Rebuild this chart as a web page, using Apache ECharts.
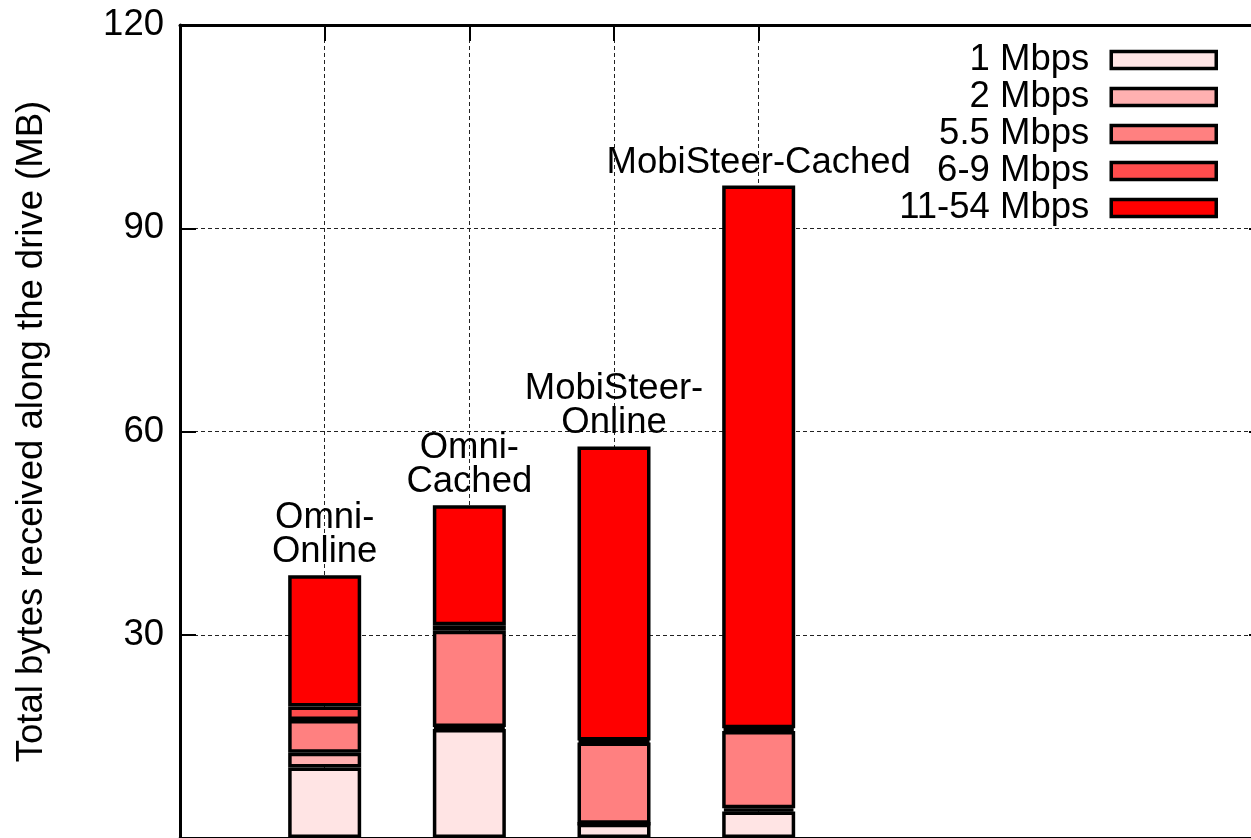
<!DOCTYPE html>
<html>
<head>
<meta charset="utf-8">
<title>Total bytes received along the drive</title>
<script src="https://cdn.jsdelivr.net/npm/echarts@6/dist/echarts.min.js"></script>
<style>
  html, body { margin: 0; padding: 0; background: #fff; }
  #chart { width: 1251px; height: 838px; }
</style>
</head>
<body>
<div id="chart"></div>
<script>
// Schemes compared, one stacked bar each
const schemes = ['Omni-\nOnline', 'Omni-\nCached', 'MobiSteer-\nOnline', 'MobiSteer-Cached'];

// Bit-rate classes, bottom to top of each stack
const rateNames = ['1 Mbps', '2 Mbps', '5.5 Mbps', '6-9 Mbps', '11-54 Mbps'];
const rateColors = ['#ffe4e4', '#ffb0b0', '#ff8080', '#ff4c4c', '#ff0000'];

// MB received at each bit rate
const mb1 = [10.4, 16.1, 2.1, 3.9];
const mb2 = [2.2, 0.3, 0, 0.5];
const mb5_5 = [4.8, 14.2, 12.0, 11.4];
const mb6_9 = [2.0, 0.8, 0.3, 0.4];
const mb11_54 = [19.4, 17.7, 43.4, 80.1];

// Y axis ticks (MB)
const yMin = 0, yMax = 120, yStep = 30;

const FONT = "'Liberation Sans', Arial, Helvetica, sans-serif";
const FS = 36.5;

// The x axis runs one empty slot left of the first bar and several to the right
const leadSlots = 1, trailSlots = 4;
const xSlots = [].concat(
  Array(leadSlots).fill(''),
  schemes,
  Array(trailSlots).fill('')
);
const isScheme = idx => idx >= leadSlots && idx < leadSlots + schemes.length;

const chart = echarts.init(document.getElementById('chart'), null, { renderer: 'canvas' });

const rateValues = [mb1, mb2, mb5_5, mb6_9, mb11_54];

const barSeries = rateNames.map((name, i) => ({
  name: name,
  type: 'bar',
  stack: 'total',
  barWidth: 73,
  z: 3,
  data: rateValues[i].map((v, k) => [leadSlots + k, v]),
  itemStyle: { color: rateColors[i], borderColor: '#000', borderWidth: 3.5 },
  emphasis: { disabled: true },
  label: i === rateNames.length - 1 ? {
    show: true,
    position: 'top',
    distance: 6,
    formatter: p => schemes[p.dataIndex],
    fontFamily: FONT,
    fontSize: FS,
    lineHeight: 34,
    color: '#000',
    align: 'center'
  } : { show: false }
}));

const slotStep = 144.67;
const gridLeft = 180, gridTop = 25, gridHeight = 813;
const gridWidth = slotStep * (xSlots.length - 1);
const rightBorderX = gridLeft + slotStep * 7.5;

const xCommon = {
  type: 'category',
  data: xSlots,
  boundaryGap: false,
  axisLine: { show: true, onZero: false, lineStyle: { color: '#000', width: 3 } },
  axisTick: { show: true, inside: true, length: 16, interval: isScheme, lineStyle: { color: '#000', width: 2 } },
  axisLabel: { show: false },
  splitLine: { show: false }
};

const yCommon = {
  type: 'value',
  min: yMin,
  max: yMax,
  interval: yStep,
  axisLine: { show: true, onZero: false, lineStyle: { color: '#000', width: 3 } },
  axisTick: { show: true, inside: true, length: 16, lineStyle: { color: '#000', width: 2 } }
};

const dashed = { color: '#222', width: 1, type: [4, 3] };

chart.setOption({
  animation: false,
  backgroundColor: '#fff',
  textStyle: { fontFamily: FONT },
  grid: {
    left: gridLeft, top: gridTop, width: gridWidth, height: gridHeight,
    containLabel: false, outerBoundsMode: 'none'
  },
  legend: {
    data: rateNames,
    orient: 'vertical',
    align: 'right',
    right: 33,
    top: 41.5,
    padding: 0,
    itemGap: 0,
    itemWidth: 105,
    itemHeight: 17,
    icon: 'rect',
    selectedMode: false,
    itemStyle: { borderColor: '#000', borderWidth: 3.5 },
    textStyle: { fontFamily: FONT, fontSize: FS, lineHeight: 37, color: '#000', padding: [0, 17, 0, 0] }
  },
  xAxis: [
    Object.assign({}, xCommon, {
      position: 'bottom',
      splitLine: { show: true, interval: isScheme, lineStyle: dashed }
    }),
    Object.assign({}, xCommon, { position: 'top' })
  ],
  yAxis: [
    Object.assign({}, yCommon, {
      position: 'left',
      name: 'Total bytes received along the drive (MB)',
      nameLocation: 'middle',
      nameRotate: 90,
      nameGap: 130,
      nameTextStyle: { fontFamily: FONT, fontSize: FS, color: '#000' },
      axisLabel: { show: true, showMinLabel: false, margin: 16, fontFamily: FONT, fontSize: FS, color: '#000' },
      splitLine: { show: true, lineStyle: dashed }
    }),
    Object.assign({}, yCommon, {
      position: 'right',
      offset: rightBorderX - (gridLeft + gridWidth),
      axisLabel: { show: false },
      splitLine: { show: false }
    })
  ],
  series: barSeries
});
</script>
</body>
</html>
